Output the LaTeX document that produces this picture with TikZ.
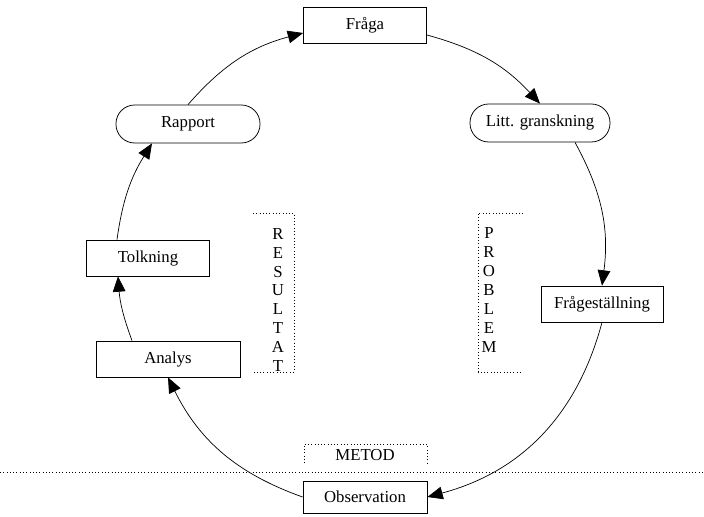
\documentclass[tikz,border=0pt]{standalone}
\usepackage{fontspec}
\setmainfont{Liberation Serif}
\usetikzlibrary{arrows.meta}
\begin{document}
\begin{tikzpicture}[x=0.03cm, y=-0.03cm,
	txt/.style={font=\fontsize{14.3}{16.2}\selectfont},
	box/.style={txt, draw, line width=0.65pt, rectangle, inner sep=0pt, minimum width=3.69cm, minimum height=1.08cm},
	roundbox/.style={box, rounded corners=0.56cm},
	flow/.style={line width=0.6pt, -{Triangle[length=4.6mm, width=3.8mm]}},
	stack/.style={txt, align=center, inner sep=0pt}]
	\useasboundingbox (0,0) rectangle (704,517);
	% steps round the circle
	\node[box] (fraga) at (365,25) {Fråga};
	\node[roundbox, minimum width=4.2cm, minimum height=1.14cm] (litt) at (540,123) {Litt. granskning};
	\node[box, minimum width=3.66cm] (fragest) at (602,304) {Frågeställning};
	\node[box, minimum width=3.72cm, minimum height=0.96cm] (obs) at (365,497) {Observation};
	\node[box, minimum width=4.32cm] (analys) at (168,359) {Analys};
	\node[box] (tolkning) at (148,258) {Tolkning};
	\node[roundbox, minimum width=4.32cm, minimum height=1.14cm] (rapport) at (188,124) {Rapport};
	% side labels
	\node[stack] (resultat) at (278,300) {R\\E\\S\\U\\L\\T\\A\\T};
	\node[stack] (problem) at (489,290) {P\\R\\O\\B\\L\\E\\M};
	\node[txt] (metod) at (365,455) {METOD};
	\draw[dotted, thick] (253,213) -- (294,213) -- (294,372) -- (253,372);
	\draw[dotted, thick] (523,213) -- (478,213) -- (478,372) -- (523,372);
	\draw[dotted, thick] (304,463) -- (304,444) -- (427,444) -- (427,463);
	\draw[dotted, thick] (0,472) -- (704,472);
	% arrows
	\draw[flow] (rapport.north) to[bend left=17] ([yshift=-0.24cm]fraga.west);
	\draw[flow] ([yshift=-0.3cm]fraga.east) to[bend left=16] (litt.north);
	\draw[flow] ([xshift=1.05cm]litt.south) to[bend left=18] (fragest.north);
	\draw[flow] (fragest.south) to[bend left=30] (obs.east);
	\draw[flow] (obs.west) to[bend left=22] (analys.south);
	\draw[flow] ([xshift=-1.08cm]analys.north) to[bend left=8] ([xshift=-0.9cm]tolkning.south);
	\draw[flow] ([xshift=-0.93cm]tolkning.north) to[bend left=12] ([xshift=-1.08cm]rapport.south);
\end{tikzpicture}
\end{document}
